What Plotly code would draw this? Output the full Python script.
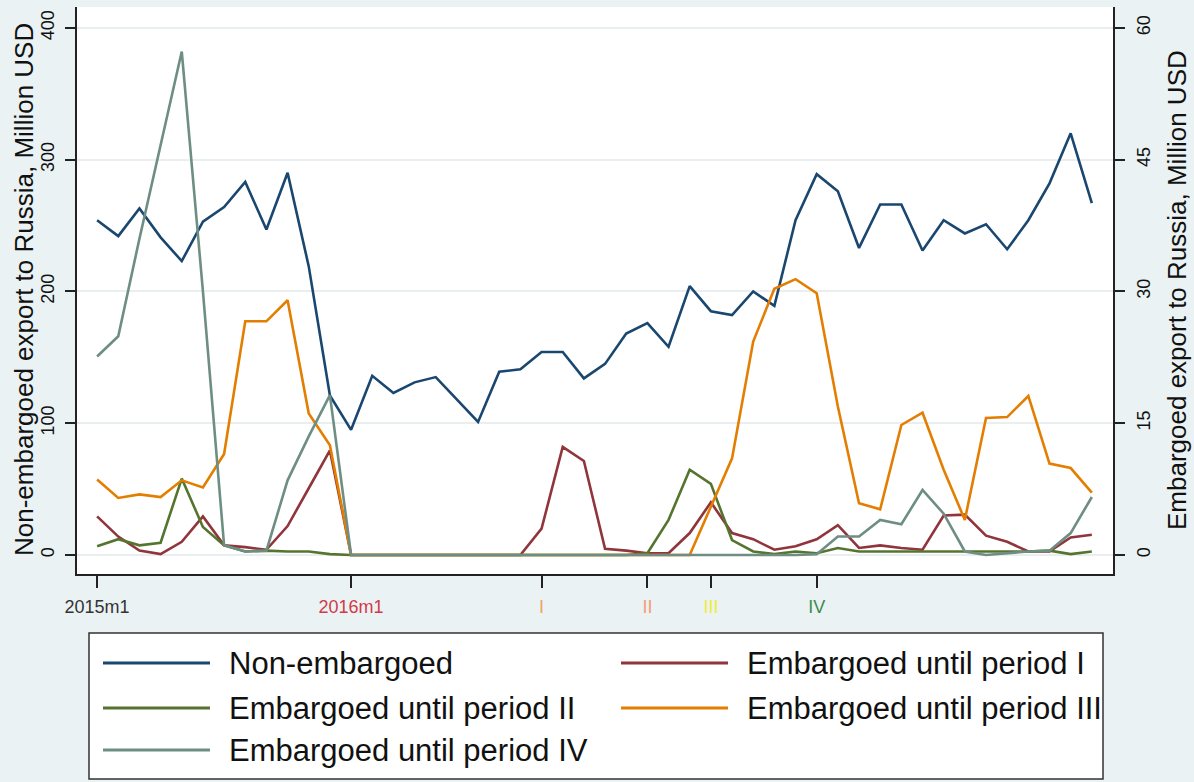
import plotly.graph_objects as go

# ---------------- data ----------------
months = [f"{y}m{m}" for y in (2015, 2016, 2017, 2018) for m in range(1, 13)]
month_idx = list(range(len(months)))

non_embargoed = [254, 242, 263, 241, 223, 253, 264, 283, 247, 290, 219, 121,
                 95, 136, 123, 131, 135, 118, 101, 139, 141, 154, 154, 134,
                 145, 168, 176, 158, 204, 185, 182, 200, 189, 254, 289, 276,
                 233, 266, 266, 231, 254, 244, 251, 232, 254, 282, 320, 267]

emb_until_I = [4.4, 2.1, 0.5, 0.1, 1.5, 4.4, 1.1, 0.9, 0.6, 3.3, 7.6, 11.9,
               0, 0, 0, 0, 0, 0, 0, 0, 0, 3.0, 12.3, 10.7,
               0.7, 0.5, 0.2, 0.2, 2.5, 6.0, 2.5, 1.8, 0.6, 1.0, 1.8, 3.4,
               0.8, 1.1, 0.8, 0.6, 4.5, 4.6, 2.2, 1.5, 0.4, 0.4, 2.0, 2.3]

emb_until_II = [1.0, 1.8, 1.1, 1.4, 8.7, 3.2, 1.1, 0.4, 0.5, 0.4, 0.4, 0.1,
                0, 0, 0, 0, 0, 0, 0, 0, 0, 0, 0, 0,
                0, 0, 0.2, 4.0, 9.7, 8.1, 1.7, 0.4, 0.1, 0.4, 0.2, 0.8,
                0.4, 0.4, 0.4, 0.4, 0.4, 0.4, 0.4, 0.4, 0.4, 0.5, 0.1, 0.4]

emb_until_III = [8.6, 6.5, 6.9, 6.6, 8.5, 7.7, 11.5, 26.6, 26.6, 29.0, 16.1, 12.5,
                 0, 0, 0, 0, 0, 0, 0, 0, 0, 0, 0, 0,
                 0, 0, 0, 0, 0, 5.5, 11.0, 24.3, 30.3, 31.4, 29.8, 16.9,
                 5.9, 5.2, 14.8, 16.2, 9.7, 4.0, 15.6, 15.7, 18.1, 10.4, 9.9, 7.1]

emb_until_IV = [22.6, 24.9, 36.0, 46.5, 57.3, 30.0, 1.1, 0.4, 0.5, 8.5, 13.5, 18.2,
                0, 0, 0, 0, 0, 0, 0, 0, 0, 0, 0, 0,
                0, 0, 0, 0, 0, 0, 0, 0, 0, 0, 0.1, 2.1,
                2.1, 4.0, 3.5, 7.4, 4.7, 0.4, 0.0, 0.2, 0.4, 0.5, 2.5, 6.6]

x_tick_pos = [0, 12, 21, 26, 29, 34]
x_tick_text = ["2015m1", "2016m1", "I", "II", "III", "IV"]
x_tick_colors = ["#333333", "#d23a48", "#f2a25e", "#f59a7a", "#eeee3a", "#3f8a4a"]

left_ticks = [0, 100, 200, 300, 400]
right_ticks = [0, 15, 30, 45, 60]

series_names = ["Non-embargoed", "Embargoed until period I", "Embargoed until period II",
                "Embargoed until period III", "Embargoed until period IV"]
series_colors = ["#1a476f", "#90353b", "#55752f", "#e37e00", "#6e8e84"]

# ---------------- figure ----------------
W, H = 1194, 782
ML, MR, MT, MB = 77, 81, 7, 208
PW, PH = W - ML - MR, H - MT - MB
FONT = "Liberation Sans, Arial, sans-serif"
BG = "#eaf2f3"


def px(xp):
    return (xp - ML) / PW


def py(yp):
    return (H - MB - yp) / PH


fig = go.Figure()
fig.add_trace(go.Scatter(x=month_idx, y=non_embargoed, mode="lines", name=series_names[0],
                         line=dict(color=series_colors[0], width=2.6), yaxis="y",
                         showlegend=False))
for vals, name, col in zip([emb_until_I, emb_until_II, emb_until_III, emb_until_IV],
                           series_names[1:], series_colors[1:]):
    fig.add_trace(go.Scatter(x=month_idx, y=vals, mode="lines", name=name,
                             line=dict(color=col, width=2.6), yaxis="y2",
                             showlegend=False))

ticktext = [f"<span style='color:{c}'>{t}</span>" for t, c in zip(x_tick_text, x_tick_colors)]

fig.update_layout(
    width=W, height=H,
    margin=dict(l=ML, r=MR, t=MT, b=MB, autoexpand=False),
    paper_bgcolor=BG,
    plot_bgcolor="white",
    font=dict(family=FONT, color="#111111"),
    xaxis=dict(range=[-0.95, 48.0], tickmode="array", tickvals=x_tick_pos, ticktext=ticktext,
               showline=True, linecolor="#222222", linewidth=2, ticks="outside",
               ticklen=12, tickwidth=2, tickcolor="#222222", showgrid=False, zeroline=False,
               tickfont=dict(size=18, family=FONT), ticklabelstandoff=3),
    yaxis=dict(range=[-14.4, 415.8], tickmode="array", tickvals=left_ticks,
               tickangle=-90, showline=True, linecolor="#222222", linewidth=2,
               ticks="outside", ticklen=10, tickwidth=2, tickcolor="#222222",
               showgrid=True, gridcolor="#e9eff0", gridwidth=2, zeroline=False,
               tickfont=dict(size=18, family=FONT), ticklabelstandoff=4),
    yaxis2=dict(range=[-2.16, 62.37], tickmode="array", tickvals=right_ticks,
                overlaying="y", side="right", tickangle=-90, showline=True,
                linecolor="#222222", linewidth=2, ticks="outside", ticklen=10,
                tickwidth=2, tickcolor="#222222", showgrid=False, zeroline=False,
                tickfont=dict(size=18, family=FONT), ticklabelstandoff=3),
)

# axis titles
fig.add_annotation(text="Non-embargoed export to Russia, Million USD", textangle=-90,
                   xref="paper", yref="paper", x=px(24), y=py(290), showarrow=False,
                   xanchor="center", yanchor="middle", font=dict(size=26, family=FONT, color="#111111"))
fig.add_annotation(text="Embargoed export to Russia, Million USD", textangle=-90,
                   xref="paper", yref="paper", x=px(1177), y=py(290), showarrow=False,
                   xanchor="center", yanchor="middle", font=dict(size=26, family=FONT, color="#111111"))

# legend (drawn as a framed box below the plot)
fig.add_shape(type="rect", xref="paper", yref="paper", x0=px(89), x1=px(1103),
              y0=py(779), y1=py(633), fillcolor="white", line=dict(color="#333333", width=1.5),
              layer="above")
legend_slots = [(103, 663), (621, 663), (103, 708), (621, 708), (103, 750)]
for (lx, ly), name, col in zip(legend_slots, series_names, series_colors):
    fig.add_shape(type="line", xref="paper", yref="paper", x0=px(lx), x1=px(lx + 107),
                  y0=py(ly), y1=py(ly), line=dict(color=col, width=3), layer="above")
    fig.add_annotation(text=name, xref="paper", yref="paper", x=px(lx + 124), y=py(ly),
                       showarrow=False, xanchor="left", yanchor="middle",
                       font=dict(size=31, family=FONT, color="#111111"))

fig.write_html("out.html", config={"displayModeBar": False},
               post_script=f"document.body.style.margin='0';document.body.style.background='{BG}';")
